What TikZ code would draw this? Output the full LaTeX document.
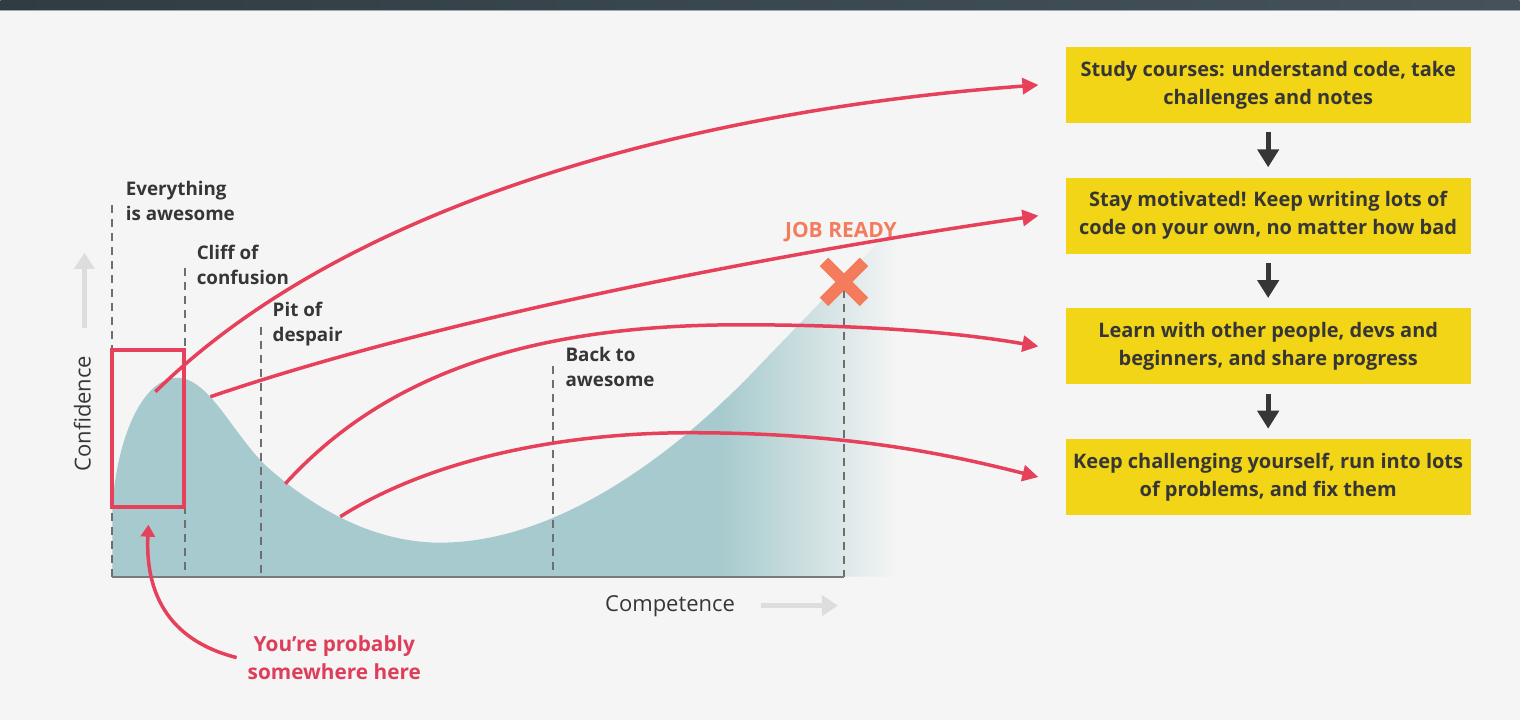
\documentclass[tikz,border=0pt]{standalone}
\usepackage{fontspec}
\setmainfont{Open Sans}
\usetikzlibrary{arrows.meta,positioning}

\definecolor{bgcol}{HTML}{F5F5F5}
\definecolor{barleft}{HTML}{2F3D42}
\definecolor{barright}{HTML}{45525C}
\definecolor{barline}{HTML}{9FAAAE}
\definecolor{tealfill}{HTML}{A6CACD}
\definecolor{redline}{HTML}{E6405A}
\definecolor{youcol}{HTML}{DE3E5A}
\definecolor{jobcol}{HTML}{F47C5D}
\definecolor{stepyellow}{HTML}{F1D516}
\definecolor{darktext}{HTML}{363636}
\definecolor{guidegray}{HTML}{6E6E6E}
\definecolor{axisgray}{HTML}{DDDDDD}
\definecolor{axisline}{HTML}{7A7A7A}

\begin{document}
\begin{tikzpicture}[x=0.5pt,y=-0.5pt,
  lbl/.style={font=\bfseries\fontsize{9.4}{12.5}\selectfont,text=darktext,align=left,anchor=north west,inner sep=0pt},
  stepbox/.style={fill=stepyellow,minimum width=202.5pt,minimum height=38pt,align=center,font=\bfseries\fontsize{10}{14}\selectfont,text=darktext},
  guide/.style={dash pattern=on 4pt off 3pt,guidegray,line width=1pt},
  redarr/.style={redline,line width=1.75pt,-{Triangle[length=8pt,width=8pt]}},
  steparr/.style={darktext,line width=2.5pt,-{Triangle[length=9pt,width=10.5pt]},shorten <=4.5pt,shorten >=5pt},
  axarr/.style={axisgray,line width=2.5pt,-{Triangle[length=8pt,width=10pt]}}]

  % background and top bar
  \fill[bgcol] (0,0) rectangle (1520,720);
  \shade[left color=barleft,right color=barright] (0,0) rectangle (1520,10);
  \draw[barline,line width=0.5pt] (0,10.5) -- (1520,10.5);

  % learning curve, fading out on the right
  \begin{scope}
    \clip (112,577) -- (112,505) .. controls (118,430) and (145,378) .. (177,378)
      .. controls (210,378) and (235,440) .. (270,470)
      .. controls (310,505) and (370,543) .. (440,543)
      .. controls (560,543) and (680,450) .. (760,365) -- (900,220) -- (900,577) -- cycle;
    \fill[tealfill] (112,200) rectangle (725,577);
    \shade[left color=tealfill,middle color=tealfill!50!bgcol,right color=bgcol] (720,200) rectangle (898,577);
  \end{scope}

  % stage guides
  \foreach \x/\y in {112/205,185/268,261/327,553/366,844/290}
    \draw[guide] (\x,\y) -- (\x,577);
  \draw[axisline,line width=1pt] (112,577) -- (844,577);

  \node[lbl] (awesome) at (125,181) {Everything\\is awesome};
  \node[lbl] (cliff) at (196,245) {Cliff of\\confusion};
  \node[lbl] (pit) at (272,302) {Pit of\\despair};
  \node[lbl] (back) at (565,347) {Back to\\awesome};

  % job ready mark
  \node[font=\bfseries\fontsize{10.5}{12}\selectfont,text=jobcol] (job) at (841,232) {JOB READY};
  \draw[jobcol,line width=6pt] (824,262) -- (864,302) (824,302) -- (864,262);

  % axes
  \node[rotate=90,font=\fontsize{11}{13}\selectfont,text=darktext] (conf) at (82,414) {Confidence};
  \draw[axarr] (84,328) -- (84,253);
  \node[font=\fontsize{11}{13}\selectfont,text=darktext] (comp) at (670,607) {Competence};
  \draw[axarr] (761,606) -- (838,606);

  % steps
  \node[stepbox] (study) at (1268.5,85) {Study courses: understand code, take\\challenges and notes};
  \node[stepbox,below=27pt of study] (motiv) {Stay motivated! Keep writing lots of\\code on your own, no matter how bad};
  \node[stepbox,below=27pt of motiv] (people) {Learn with other people, devs and\\beginners, and share progress};
  \node[stepbox,below=27pt of people] (problems) {Keep challenging yourself, run into lots\\of problems, and fix them};
  \draw[steparr] (study) -- (motiv);
  \draw[steparr] (motiv) -- (people);
  \draw[steparr] (people) -- (problems);

  % where you are
  \node[draw=redline,line width=2pt,minimum width=36pt,minimum height=78.5pt,inner sep=0pt] (herebox) at (148,428.5) {};
  \node[font=\bfseries\fontsize{10.4}{14}\selectfont,text=youcol,align=center] (youre) at (334,658) {You’re probably\\somewhere here};
  \draw[redarr,-{Triangle[length=6pt,width=7pt]}] ([xshift=-2pt]youre.west) .. controls (165,640) and (145,590) .. ([yshift=-8pt]herebox.south);

  % from the curve to the steps
  \coordinate (c1) at (155,392);
  \coordinate (c2) at (210,397);
  \coordinate (c3) at (285,484);
  \coordinate (c4) at (340,517);
  \draw[redarr] (c1) .. controls (350,200) and (700,110) .. ([xshift=-13.5pt]study.west);
  \draw[redarr] (c2) .. controls (450,315) and (800,250) .. ([xshift=-13.5pt]motiv.west);
  \draw[redarr] (c3) .. controls (380,380) and (520,325) .. (740,325)
    .. controls (870,325) and (960,333) .. ([xshift=-13.5pt]people.west);
  \draw[redarr] (c4) .. controls (430,460) and (560,433) .. (690,433)
    .. controls (850,433) and (950,455) .. ([xshift=-13.5pt]problems.west);
\end{tikzpicture}
\end{document}
